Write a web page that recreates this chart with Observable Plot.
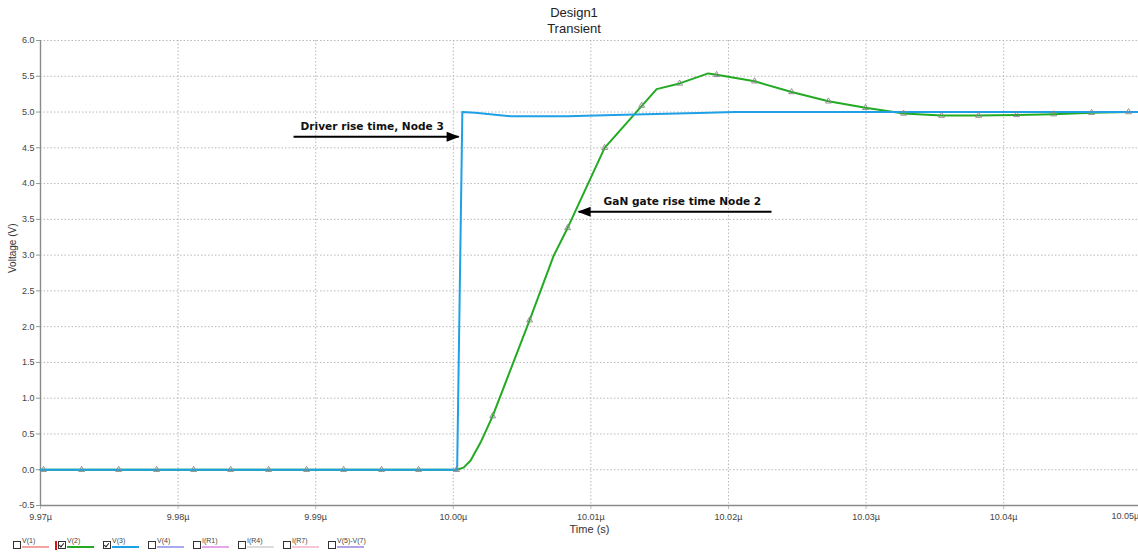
<!DOCTYPE html>
<html><head><meta charset="utf-8">
<script src="https://cdn.jsdelivr.net/npm/d3@7"></script>
<script src="https://cdn.jsdelivr.net/npm/@observablehq/plot@0.6"></script>
<style>
body{margin:0;background:#fff;font-family:"Liberation Sans",Arial,sans-serif;}
#wrap{width:1138px;height:552px;overflow:hidden;position:relative;}
#title{height:36px;width:1148px;text-align:center;font-size:13px;line-height:16px;color:#222;padding-top:5px;box-sizing:border-box;}
#chart svg{display:block;}
#legend{position:relative;height:16px;width:1138px;font-size:7px;color:#444;}
.cb{position:absolute;top:5px;width:6px;height:6px;border:1px solid #333;background:#fff;}
.cb.on::after{content:"";position:absolute;left:1px;top:0px;width:2px;height:4px;border:solid #222;border-width:0 1.2px 1.2px 0;transform:rotate(40deg);}
.lab{position:absolute;top:1px;line-height:8px;}
.sw{position:absolute;top:10px;width:27px;height:2px;}
.mk{position:absolute;top:5px;width:2px;height:9px;background:#e01010;}
</style>
</head><body>
<div id="wrap">
<div id="title">Design1<br>Transient</div>
<div id="chart"></div>
<div id="legend"></div>
</div>
<script>
// ---- data ----
const xTicks = [9.97, 9.98, 9.99, 10.00, 10.01, 10.02, 10.03, 10.04];
const xLastTick = [10.05];
const yTicks = [-0.5, 0, 0.5, 1.0, 1.5, 2.0, 2.5, 3.0, 3.5, 4.0, 4.5, 5.0, 5.5, 6.0];

// V(3) driver output (blue), time in µs
const blueT = [9.97, 10.00028, 10.00066, 10.0016, 10.0042, 10.0083, 10.0117, 10.0178, 10.0205, 10.05];
const blueV = [0, 0, 5.0, 4.99, 4.94, 4.94, 4.96, 4.985, 5.0, 5.0];

// V(2) GaN gate (green)
const greenT = [9.97, 10.00024, 10.00075, 10.00126, 10.00198, 10.00286, 10.00555, 10.00729, 10.00831, 10.011, 10.01478, 10.01645, 10.01853, 10.01914, 10.0219, 10.02459, 10.02727, 10.02996, 10.03273, 10.03549, 10.03818, 10.04094, 10.04363, 10.04639, 10.04908, 10.05];
const greenV = [0, 0, 0.03, 0.13, 0.38, 0.75, 2.09, 2.99, 3.38, 4.50, 5.32, 5.40, 5.54, 5.52, 5.43, 5.28, 5.15, 5.06, 4.98, 4.95, 4.95, 4.96, 4.97, 4.99, 5.0, 5.0];

// sample markers
const markerT = [9.97022, 9.97299, 9.97568, 9.97844, 9.98113, 9.98382, 9.98658, 9.98934, 9.99203, 9.99479, 9.99748, 10.00024, 10.00286, 10.00555, 10.00831, 10.011, 10.01369, 10.01645, 10.01914, 10.0219, 10.02459, 10.02727, 10.02996, 10.03273, 10.03549, 10.03818, 10.04094, 10.04363, 10.04639, 10.04908];
const markerV = [0, 0, 0, 0, 0, 0, 0, 0, 0, 0, 0, 0, 0.75, 2.09, 3.38, 4.50, 5.09, 5.40, 5.52, 5.43, 5.28, 5.15, 5.06, 4.98, 4.95, 4.95, 4.96, 4.97, 4.99, 5.0];

// annotations
const noteText = ["Driver rise time, Node 3", "GaN gate rise time Node 2"];
const noteTextT = [9.9889, 10.01092];
const noteTextV = [4.795, 3.748];
const arrowFromT = [9.98839, 10.02313];
const arrowTipT = [10.00039, 10.00911];
const arrowV = [4.655, 3.607];
const arrowDir = ["right", "left"];

// legend
const legendLabels = ["V(1)", "V(2)", "V(3)", "V(4)", "I(R1)", "I(R4)", "I(R7)", "V(5)-V(7)"];
const legendColors = ["#f4a3a3", "#22aa22", "#1ea0e6", "#a9a9f2", "#e6a6ea", "#dcdcdc", "#f6c6d6", "#b2a2ec"];
const legendChecked = [false, true, true, false, false, false, false, false];

// ---- build ----
const blue = blueT.map((t, i) => ({t, v: blueV[i]}));
const green = greenT.map((t, i) => ({t, v: greenV[i]}));
const markers = markerT.map((t, i) => ({t, v: markerV[i]}));
const notes = noteText.map((s, i) => ({s, t: noteTextT[i], v: noteTextV[i]}));
const arrows = arrowV.map((v, i) => ({t1: arrowFromT[i], t2: arrowTipT[i], v, dir: arrowDir[i]}));

const headRight = {draw(ctx) { ctx.moveTo(1, 0); ctx.lineTo(-12, -5); ctx.lineTo(-12, 5); ctx.closePath(); }};
const headLeft = {draw(ctx) { ctx.moveTo(-1, 0); ctx.lineTo(12, -5); ctx.lineTo(12, 5); ctx.closePath(); }};

const gridStyle = {stroke: "#b8b8b8", strokeOpacity: 1, strokeDasharray: "1.5,2", strokeWidth: 1};
const fmtX = d => d.toFixed(2) + "µ";

const chart = Plot.plot({
  width: 1138,
  height: 500,
  marginTop: 4,
  marginBottom: 31,
  marginLeft: 40,
  marginRight: 0,
  style: {fontFamily: "'Liberation Sans', Arial, sans-serif", background: "#fff", color: "#444", overflow: "visible"},
  x: {domain: [9.97, 10.0498]},
  y: {domain: [-0.5, 6.0]},
  marks: [
    Plot.gridY(yTicks, gridStyle),
    Plot.gridX(xTicks, gridStyle),
    Plot.axisY(yTicks, {tickFormat: d => d.toFixed(1), tickSize: 4, tickPadding: 2, fontSize: 9, label: null, stroke: "#999"}),
    Plot.axisX(xTicks, {tickFormat: fmtX, tickSize: 4, tickPadding: 4, fontSize: 9, label: null, stroke: "#bbb"}),
    Plot.text(xLastTick, {x: d => d, frameAnchor: "bottom", dy: 13, dx: -16, text: fmtX, fontSize: 9, fill: "#444"}),
    Plot.text(["Time (s)"], {frameAnchor: "bottom", dy: 27, fontSize: 11, fill: "#333"}),
    Plot.text(["Voltage (V)"], {frameAnchor: "left", dx: -28, rotate: -90, fontSize: 10, fill: "#333"}),
    Plot.ruleX([9.97], {stroke: "#8a8a8a", strokeWidth: 1.4}),
    Plot.ruleY([-0.5], {stroke: "#8a8a8a", strokeWidth: 1.4}),
    Plot.line(green, {x: "t", y: "v", stroke: "#22aa22", strokeWidth: 2}),
    Plot.line(blue, {x: "t", y: "v", stroke: "#1ea0e6", strokeWidth: 2}),
    Plot.dot(markers, {x: "t", y: "v", symbol: "triangle", r: 2.2, stroke: "#888", fill: "none", strokeWidth: 0.9}),
    Plot.link(arrows, {x1: "t1", x2: "t2", y1: "v", y2: "v", stroke: "#000", strokeWidth: 2}),
    Plot.dot(arrows.filter(a => a.dir === "right"), {x: "t2", y: "v", symbol: headRight, fill: "#000", stroke: null, r: 5}),
    Plot.dot(arrows.filter(a => a.dir === "left"), {x: "t2", y: "v", symbol: headLeft, fill: "#000", stroke: null, r: 5}),
    Plot.text(notes, {x: "t", y: "v", text: "s", textAnchor: "start", fontSize: 10.6, fontWeight: "bold", fontFamily: "'DejaVu Sans', Verdana, sans-serif", fill: "#111"})
  ]
});
document.getElementById("chart").append(chart);

const leg = document.getElementById("legend");
legendLabels.forEach((lab, i) => {
  const x0 = 13 + 45 * i;
  if (i === 1) {
    const m = document.createElement("div"); m.className = "mk"; m.style.left = (x0 - 3) + "px"; leg.append(m);
  }
  const cb = document.createElement("div");
  cb.className = "cb" + (legendChecked[i] ? " on" : "");
  cb.style.left = x0 + "px";
  leg.append(cb);
  const l = document.createElement("div");
  l.className = "lab"; l.textContent = lab; l.style.left = (x0 + 9) + "px";
  leg.append(l);
  const s = document.createElement("div");
  s.className = "sw"; s.style.left = (x0 + 9) + "px"; s.style.background = legendColors[i];
  leg.append(s);
});
</script>
</body></html>
